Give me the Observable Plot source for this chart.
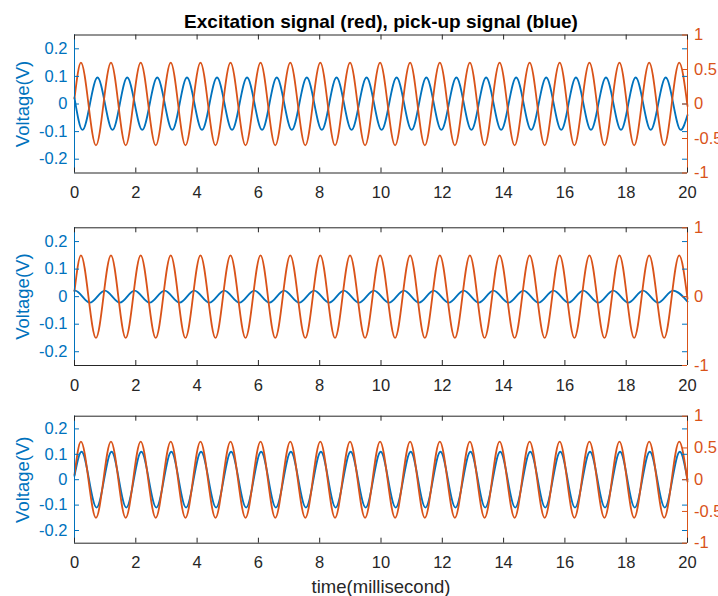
<!DOCTYPE html>
<html><head><meta charset="utf-8">
<script src="https://cdn.jsdelivr.net/npm/d3@7"></script>
<script src="https://cdn.jsdelivr.net/npm/@observablehq/plot@0.6"></script>
<style>
body{margin:0;background:#fff;font-family:"Liberation Sans",Arial,sans-serif;}
#chart svg{display:block;overflow:visible;}
</style></head><body><div id="chart"></div>
<script>
// ---- text & ticks ----
const titleText = "Excitation signal (red), pick-up signal (blue)";
const yLabel = "Voltage(V)";
const xLabel = "time(millisecond)";
const xTicks = [0, 2, 4, 6, 8, 10, 12, 14, 16, 18, 20];
const leftTicks = [-0.2, -0.1, 0, 0.1, 0.2];
const rightTicksFull = [-1, -0.5, 0, 0.5, 1];
const rightTicksSparse = [-1, 0, 1];

// ---- excitation signal (red, right axis) ----
const redPeakT   = [0.21, 1.19, 2.16, 3.14, 4.11, 5.09, 6.07, 7.04, 8.02, 8.99, 9.97, 10.95, 11.92, 12.90, 13.87, 14.85, 15.83, 16.80, 17.78, 18.75, 19.73];
const redTroughT = [0.70, 1.67, 2.65, 3.62, 4.60, 5.58, 6.55, 7.53, 8.50, 9.48, 10.46, 11.43, 12.41, 13.38, 14.36, 15.34, 16.31, 17.29, 18.26, 19.24];
const redLevels  = [0.08, 0.6, -0.6, -0.03];   // start, peak, trough, end

// ---- pick-up signal, panel 1 (blue, left axis) ----
const blue1PeakT   = [0.75, 1.72, 2.70, 3.67, 4.65, 5.63, 6.60, 7.58, 8.55, 9.53, 10.51, 11.48, 12.46, 13.43, 14.41, 15.39, 16.36, 17.34, 18.31, 19.29];
const blue1TroughT = [0.26, 1.24, 2.21, 3.19, 4.16, 5.14, 6.12, 7.09, 8.07, 9.04, 10.02, 11.00, 11.97, 12.95, 13.92, 14.90, 15.88, 16.85, 17.83, 18.80, 19.78];
const blue1Levels  = [0.022, 0.096, -0.094, -0.04];

// ---- pick-up signal, panel 2 ----
const blue2PeakT   = [0.02, 0.99, 1.96, 2.94, 3.91, 4.89, 5.87, 6.84, 7.82, 8.79, 9.77, 10.75, 11.72, 12.70, 13.67, 14.65, 15.63, 16.60, 17.58, 18.55, 19.53];
const blue2TroughT = [0.50, 1.48, 2.45, 3.43, 4.40, 5.38, 6.36, 7.33, 8.31, 9.28, 10.26, 11.24, 12.21, 13.19, 14.16, 15.14, 16.12, 17.09, 18.07, 19.04];
const blue2Levels  = [0.021, 0.022, -0.022, -0.018];

// ---- pick-up signal, panel 3 ----
const blue3PeakT   = [0.23, 1.21, 2.18, 3.16, 4.13, 5.11, 6.09, 7.06, 8.04, 9.01, 9.99, 10.97, 11.94, 12.92, 13.89, 14.87, 15.85, 16.82, 17.80, 18.77, 19.75];
const blue3TroughT = [0.72, 1.69, 2.67, 3.64, 4.62, 5.60, 6.57, 7.55, 8.52, 9.50, 10.48, 11.45, 12.43, 13.40, 14.38, 15.36, 16.33, 17.31, 18.28, 19.26];
const blue3Levels  = [0.015, 0.11, -0.11, 0.0];

const BLUE = "#0072BD", ORANGE = "#D95319", AXIS = "#262626";
const RIGHT_TO_LEFT = 0.25; // right axis [-1,1] shares the frame with left axis [-0.25,0.25]
const FONT = "Liberation Sans, Arial, Helvetica, sans-serif";

function series(peakT, troughT, levels) {
  const [start, peak, trough, end] = levels;
  const pts = [{t: 0, v: start}]
    .concat(peakT.filter(t => t > 0 && t < 20).map(t => ({t, v: peak})))
    .concat(troughT.filter(t => t > 0 && t < 20).map(t => ({t, v: trough})))
    .concat([{t: 20, v: end}]);
  return pts.sort((a, b) => a.t - b.t);
}

const red = series(redPeakT, redTroughT, redLevels);
const panels = [
  {blue: series(blue1PeakT, blue1TroughT, blue1Levels), rightTicks: rightTicksFull, height: 210, marginTop: 34.5, marginBottom: 37.5, title: true},
  {blue: series(blue2PeakT, blue2TroughT, blue2Levels), rightTicks: rightTicksSparse, height: 190, marginTop: 17.3, marginBottom: 35},
  {blue: series(blue3PeakT, blue3TroughT, blue3Levels), rightTicks: rightTicksFull, height: 196, marginTop: 15.7, marginBottom: 53.3, xlabel: true}
];

const W = 718, ML = 74, MR = 31, FW = W - ML - MR;
const chart = document.getElementById("chart");

for (const p of panels) {
  const H = p.height - p.marginTop - p.marginBottom;
  const marks = [
    Plot.line(p.blue, {x: "t", y: "v", stroke: BLUE, strokeWidth: 1.8, curve: "monotone-x"}),
    Plot.line(red, {x: "t", y: d => d.v * RIGHT_TO_LEFT, stroke: ORANGE, strokeWidth: 1.8, curve: "monotone-x"}),
    // frame edges
    Plot.ruleY([-0.25], {y: d => d, stroke: AXIS, strokeWidth: 1}),
    Plot.ruleY([0.25], {y: d => d, stroke: AXIS, strokeWidth: 1}),
    Plot.ruleX([0], {x: d => d, stroke: BLUE, strokeWidth: 1}),
    Plot.ruleX([20], {x: d => d, stroke: ORANGE, strokeWidth: 1}),
    // inward ticks
    Plot.ruleX(xTicks, {x: d => d, insetTop: H - 5, stroke: AXIS}),
    Plot.ruleX(xTicks, {x: d => d, insetBottom: H - 5, stroke: AXIS}),
    Plot.ruleY(leftTicks, {y: d => d, insetRight: FW - 5, stroke: BLUE}),
    Plot.ruleY(leftTicks, {y: d => d, insetLeft: FW - 5, stroke: BLUE}),
    Plot.ruleY(p.rightTicks, {y: d => d * RIGHT_TO_LEFT, insetLeft: FW - 5, stroke: ORANGE}),
    // tick labels
    Plot.axisX({ticks: xTicks, tickSize: 0, tickPadding: 13.5, label: null, fontSize: 16.5, fill: AXIS, tickFormat: d => String(d)}),
    Plot.axisY({ticks: leftTicks, tickSize: 0, tickPadding: 7, label: null, fontSize: 16.5, fill: BLUE, tickFormat: d => String(d)}),
    Plot.text(p.rightTicks, {y: d => d * RIGHT_TO_LEFT, text: d => String(d), frameAnchor: "right", dx: 6.5, textAnchor: "start", lineAnchor: "middle", fill: ORANGE, fontSize: 16.5}),
    // y label
    Plot.text([yLabel], {text: d => d, frameAnchor: "left", rotate: -90, dx: -51.2, textAnchor: "middle", lineAnchor: "middle", fill: BLUE, fontSize: 18.5})
  ];
  if (p.title) marks.push(Plot.text([titleText], {text: d => d, frameAnchor: "top", dy: -13.3, textAnchor: "middle", lineAnchor: "middle", fontWeight: "bold", fontSize: 19, fill: "#000"}));
  if (p.xlabel) marks.push(Plot.text([xLabel], {text: d => d, frameAnchor: "bottom", dy: 36.5, textAnchor: "middle", lineAnchor: "top", fontSize: 18.5, fill: AXIS}));
  const svg = Plot.plot({
    width: W, height: p.height,
    marginLeft: ML, marginRight: MR, marginTop: p.marginTop, marginBottom: p.marginBottom,
    style: {fontFamily: FONT, background: "white", overflow: "visible"},
    x: {domain: [0, 20]},
    y: {domain: [-0.25, 0.25]},
    marks
  });
  chart.appendChild(svg);
}
</script>
</body></html>
